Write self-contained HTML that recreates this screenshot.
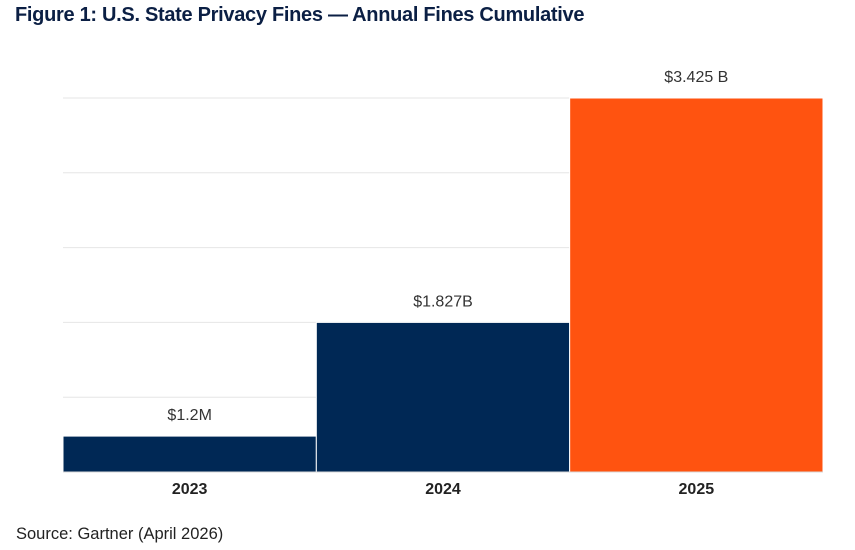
<!DOCTYPE html>
<html><head><meta charset="utf-8"><style>
body{margin:0;background:#fff;width:855px;height:550px;overflow:hidden;font-family:"Liberation Sans",sans-serif}
#title{position:absolute;left:15px;top:4px;font-size:20px;font-weight:bold;color:#0b1f44;letter-spacing:-0.3px;white-space:nowrap}
#src{position:absolute;left:16px;top:525px;font-size:16.5px;color:#222}
svg{position:absolute;left:0;top:0}
</style></head><body>
<div id="title">Figure 1: U.S. State Privacy Fines — Annual Fines Cumulative</div>
<svg id="chart" width="855" height="550"></svg>
<div id="src">Source: Gartner (April 2026)</div>
<script>
const categories=["2023","2024","2025"];
const values=[0.48,2.0,5.0];
const valueLabels=["$1.2M","$1.827B","$3.425 B"];
const colors=["#002855","#002855","#ff5310"];
const gridTicks=[1,2,3,4,5];
const NS="http://www.w3.org/2000/svg";
const svg=document.getElementById('chart');
const x0=63,x1=823,yBase=472,yTop=98,vmax=5;
const y=v=>yBase-(v/vmax)*(yBase-yTop);
const bw=(x1-x0)/categories.length;
function mk(t,a){const e=document.createElementNS(NS,t);for(const k in a)e.setAttribute(k,a[k]);svg.appendChild(e);return e;}
gridTicks.forEach(t=>{const l=mk('line',{x1:x0,x2:x1,y1:y(t),y2:y(t),stroke:'#e6e6e6','stroke-width':1});

});
categories.forEach((c,i)=>{
const r=mk('rect',{x:x0+i*bw,y:y(values[i]),width:bw,height:yBase-y(values[i]),fill:colors[i],stroke:'#fff','stroke-width':1});


const vl=mk('text',{x:x0+i*bw+bw/2,y:y(values[i])-16,'text-anchor':'middle','font-size':'16','fill':'#333','font-family':'Liberation Sans'});
vl.textContent=valueLabels[i];


const cl=mk('text',{x:x0+i*bw+bw/2,y:494,'text-anchor':'middle','font-size':'16','font-weight':'bold','fill':'#222','font-family':'Liberation Sans'});
cl.textContent=c;


});
const ax=mk('line',{x1:x0,x2:x1,y1:yBase,y2:yBase,stroke:'#d9d9d9','stroke-width':1});


</script>
</body></html>
